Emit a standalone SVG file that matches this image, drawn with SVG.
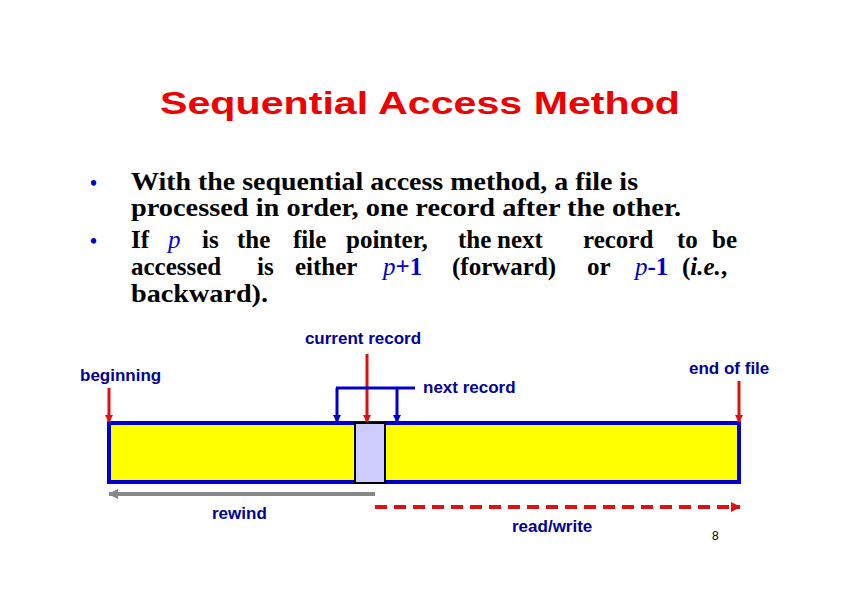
<svg xmlns="http://www.w3.org/2000/svg" width="842" height="595" viewBox="0 0 842 595">
<style>
.t{font-family:"Liberation Serif",serif;font-size:25px;font-weight:bold;fill:#000}
.v{fill:#0000cc;font-style:italic;font-weight:normal}
.b{fill:#0000cc}
.l{font-family:"Liberation Sans",Arial,sans-serif;font-size:17px;font-weight:bold;fill:#000099}
</style>
<defs>
<marker id="ar" markerWidth="8" markerHeight="8" refX="7" refY="4" orient="auto" markerUnits="userSpaceOnUse" viewBox="0 0 8 8"><path d="M0,0L8,4L0,8z" fill="#dd1111"/></marker>
<marker id="ab" markerWidth="8" markerHeight="8" refX="7" refY="4" orient="auto" markerUnits="userSpaceOnUse" viewBox="0 0 8 8"><path d="M0,0L8,4L0,8z" fill="#0000cc"/></marker>
<marker id="ag" markerWidth="10" markerHeight="10" refX="9" refY="5" orient="auto" markerUnits="userSpaceOnUse" viewBox="0 0 10 10"><path d="M0,0L10,5L0,10z" fill="#888"/></marker>
<marker id="ar2" markerWidth="10" markerHeight="10" refX="9" refY="5" orient="auto" markerUnits="userSpaceOnUse" viewBox="0 0 10 10"><path d="M0,0L10,5L0,10z" fill="#dd1111"/></marker>
</defs>
<rect width="842" height="595" fill="#fff"/>
<text x="160" y="114" textLength="520" lengthAdjust="spacingAndGlyphs" font-family="Liberation Sans,Arial,sans-serif" font-size="32" font-weight="bold" fill="#ee0000">Sequential Access Method</text>
<g class="t">
<text x="90" y="190" class="b" font-size="20">•</text>
<text x="131" y="190" textLength="507" lengthAdjust="spacingAndGlyphs">With the sequential access method, a file is</text>
<text x="131" y="216" textLength="550" lengthAdjust="spacingAndGlyphs">processed in order, one record after the other.</text>
<text x="90" y="248" class="b" font-size="20">•</text>
<text y="248"><tspan x="131">If</tspan><tspan x="168" class="v">p</tspan><tspan x="202">is</tspan><tspan x="237">the</tspan><tspan x="293">file</tspan><tspan x="346">pointer,</tspan><tspan x="458">the</tspan><tspan x="497">next</tspan><tspan x="583">record</tspan><tspan x="677">to</tspan><tspan x="712">be</tspan></text>
<text y="275"><tspan x="131">accessed</tspan><tspan x="257">is</tspan><tspan x="295">either</tspan><tspan x="383" class="v">p</tspan><tspan class="b">+1</tspan><tspan x="452">(forward)</tspan><tspan x="587">or</tspan><tspan x="635" class="v">p</tspan><tspan class="b">-1</tspan><tspan x="682">(</tspan><tspan font-style="italic">i.e.</tspan><tspan>,</tspan></text>
<text x="131" y="302" textLength="137" lengthAdjust="spacingAndGlyphs">backward).</text>
</g>
<g id="file"><rect x="109" y="423" width="630" height="59" fill="#ffff00" stroke="#0000cc" stroke-width="4"/></g>
<g id="record"><rect x="355" y="423" width="30" height="60" fill="#ccccff" stroke="#000" stroke-width="2"/></g>
<g id="labels" class="l">
<text x="363" y="344" text-anchor="middle">current record</text>
<text x="80" y="381">beginning</text>
<text x="423" y="393">next record</text>
<text x="689" y="374">end of file</text>
<text x="212" y="519">rewind</text>
<text x="512" y="532">read/write</text>
</g>
<text x="712" y="540" font-family="Liberation Sans,Arial,sans-serif" font-size="12">8</text>
<g id="connectors" fill="none">
<line x1="109" y1="388" x2="109" y2="422" stroke="#dd1111" stroke-width="3" marker-end="url(#ar)"/>
<line x1="739" y1="381" x2="739" y2="422" stroke="#dd1111" stroke-width="3" marker-end="url(#ar)"/>
<line x1="367" y1="354" x2="367" y2="422" stroke="#dd1111" stroke-width="3" marker-end="url(#ar)"/>
<line x1="336" y1="388" x2="415" y2="388" stroke="#0000cc" stroke-width="3"/>
<line x1="337" y1="388" x2="337" y2="422" stroke="#0000cc" stroke-width="3" marker-end="url(#ab)"/>
<line x1="397" y1="388" x2="397" y2="422" stroke="#0000cc" stroke-width="3" marker-end="url(#ab)"/>
<line x1="375" y1="494" x2="109" y2="494" stroke="#888" stroke-width="4" marker-end="url(#ag)"/>
<line x1="375" y1="507" x2="740" y2="507" stroke="#dd1111" stroke-width="4" stroke-dasharray="12,7" marker-end="url(#ar2)"/>
</g>
</svg>
